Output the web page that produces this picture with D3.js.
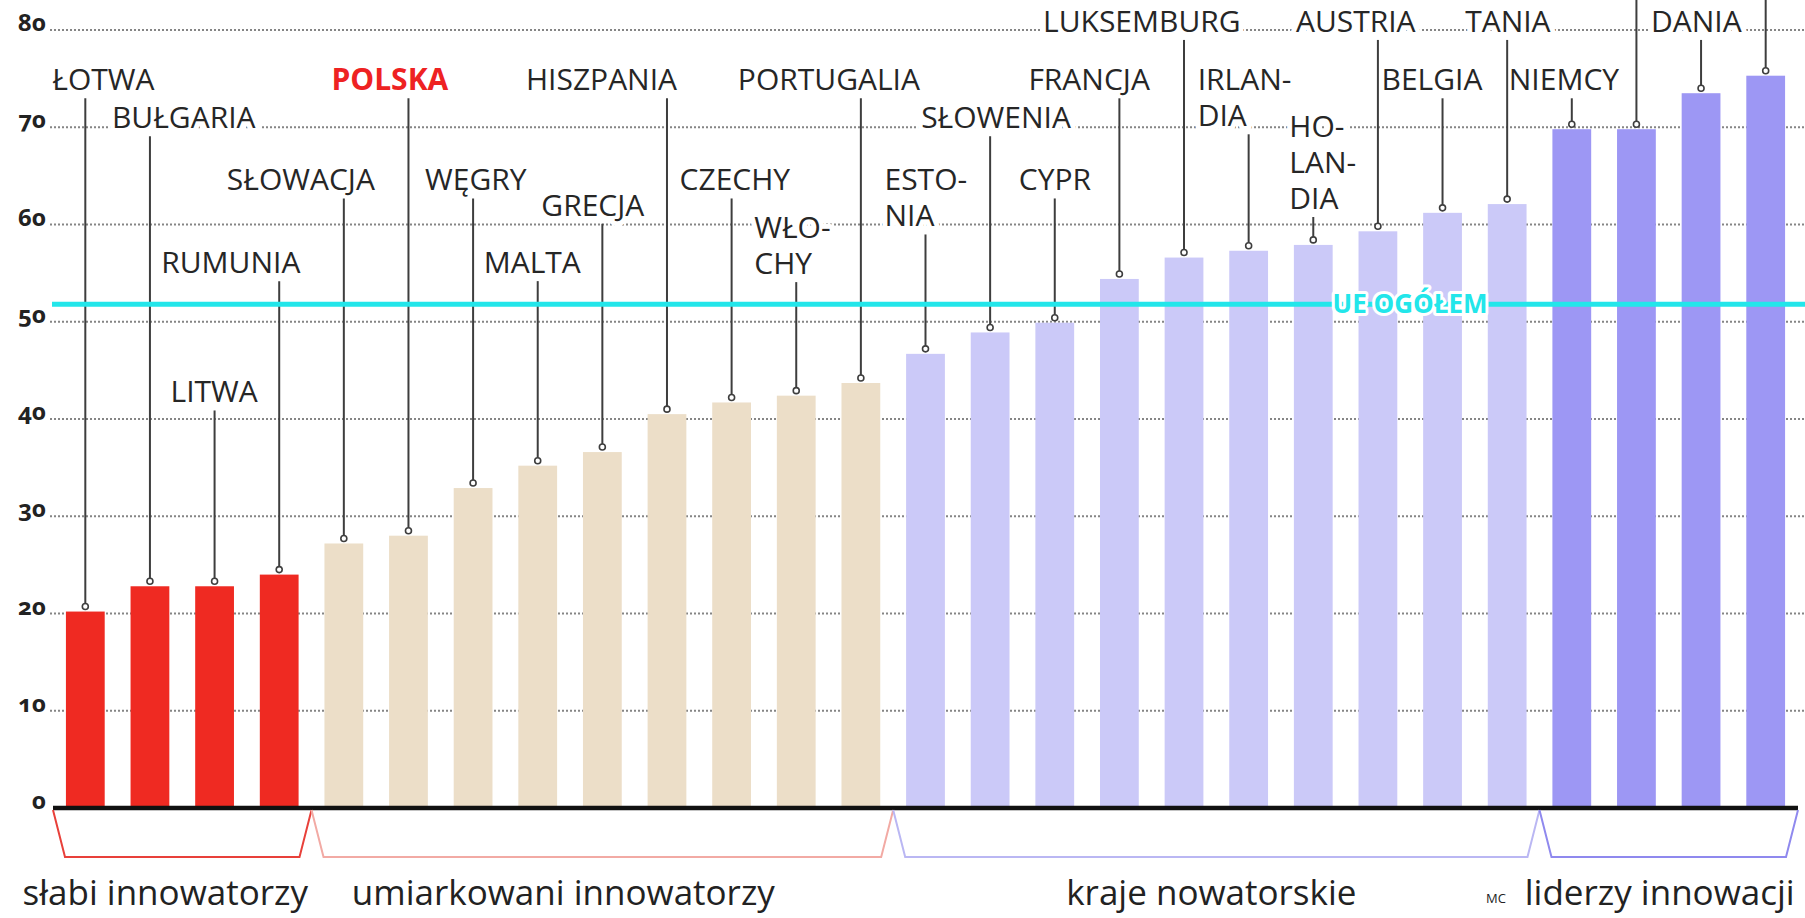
<!DOCTYPE html>
<html>
<head>
<meta charset="utf-8">
<script src="https://cdn.jsdelivr.net/npm/d3@7"></script>
<style>
  html, body { margin: 0; padding: 0; background: #fff; }
  svg { display: block; }
</style>
</head>
<body>
<div id="chart"></div>
<script>
// Data
const countries = ["ŁOTWA", "BUŁGARIA", "LITWA", "RUMUNIA", "SŁOWACJA", "POLSKA", "WĘGRY", "MALTA",
  "GRECJA", "HISZPANIA", "CZECHY", "WŁOCHY", "PORTUGALIA", "ESTONIA", "SŁOWENIA", "CYPR",
  "FRANCJA", "LUKSEMBURG", "IRLANDIA", "HOLANDIA", "AUSTRIA", "BELGIA", "WIELKA BRYTANIA",
  "NIEMCY", "FINLANDIA", "DANIA", "SZWECJA"];
const scores = [20.2, 22.8, 22.8, 24.0, 27.2, 28.0, 32.9, 35.2, 36.6, 40.5, 41.7, 42.4, 43.7,
  46.7, 48.9, 49.9, 54.4, 56.6, 57.3, 57.9, 59.3, 61.2, 62.1, 69.8, 69.8, 73.5, 75.3];
const groupOf = [0, 0, 0, 0, 1, 1, 1, 1, 1, 1, 1, 1, 1, 2, 2, 2, 2, 2, 2, 2, 2, 2, 2, 3, 3, 3, 3];
const groupNames = ["słabi innowatorzy", "umiarkowani innowatorzy", "kraje nowatorskie", "liderzy innowacji"];
const euAverage = 51.8;
const yTicks = [0, 10, 20, 30, 40, 50, 60, 70, 80];

// Label layout: visible lines (the picture is cropped at the top, so some
// labels show only their last line or nothing), left offset from bar centre,
// first baseline in score units
const labelLines = [["ŁOTWA"], ["BUŁGARIA"], ["LITWA"], ["RUMUNIA"], ["SŁOWACJA"], ["POLSKA"], ["WĘGRY"],
  ["MALTA"], ["GRECJA"], ["HISZPANIA"], ["CZECHY"], ["WŁO-", "CHY"], ["PORTUGALIA"], ["ESTO-", "NIA"],
  ["SŁOWENIA"], ["CYPR"], ["FRANCJA"], ["LUKSEMBURG"], ["IRLAN-", "DIA"], ["HO-", "LAN-", "DIA"],
  ["AUSTRIA"], ["BELGIA"], ["TANIA"], ["NIEMCY"], [], ["DANIA"], []];
const labelDx = [-33, -38, -44, -118, -117, -77, -48, -54, -61, -141, -52, -42, -123, -41, -69, -36,
  -91, -141, -51, -24, -82, -61, -42, -63, 0, -50, 0];
const labelLevel = [73.8, 69.9, 41.7, 55.0, 63.5, 73.8, 63.5, 55.0, 60.9, 73.8, 63.5, 58.6, 73.8, 63.5,
  69.9, 63.5, 73.8, 79.8, 73.8, 69.0, 79.8, 73.8, 79.8, 73.8, 84, 79.8, 84];

const groupColors = ["#ef2a22", "#ecdec8", "#cbc9f8", "#9d97f4"];
const bracketColors = ["#e8403a", "#f2aaa4", "#bab7f3", "#8f89ee"];
const groupLabelDx = [-17, -39, -5, -9];

const W = 1805, H = 918;
const plotLeft = 53, plotRight = 1798, y0 = 808, y80 = 30;
const lineH = 36;

const svg = d3.select("#chart").append("svg")
  .attr("width", W).attr("height", H)
  .style("font-family", "'Open Sans', 'Noto Sans', sans-serif");

svg.append("rect").attr("width", W).attr("height", H).attr("fill", "#fff");

const x = d3.scaleBand()
  .domain(countries)
  .range([plotLeft, plotRight])
  .paddingInner(0.4)
  .paddingOuter(0.2);

const y = d3.scaleLinear().domain([0, 80]).range([y0, y80]);
const cx = (d) => x(d) + x.bandwidth() / 2;

// dotted gridlines
svg.append("g").selectAll("line")
  .data(yTicks.filter((t) => t > 0))
  .join("line")
  .attr("x1", 50).attr("x2", W)
  .attr("y1", (d) => y(d)).attr("y2", (d) => y(d))
  .attr("stroke", "#858585")
  .attr("stroke-width", 2)
  .attr("stroke-dasharray", "2,2");

// bars
svg.append("g").selectAll("rect")
  .data(countries)
  .join("rect")
  .attr("x", (d) => x(d))
  .attr("y", (d, i) => y(scores[i]))
  .attr("width", x.bandwidth())
  .attr("height", (d, i) => y0 - y(scores[i]))
  .attr("fill", (d, i) => groupColors[groupOf[i]]);

// country labels
const labels = svg.append("g");
countries.forEach((c, i) => {
  if (!labelLines[i].length) return;
  const t = labels.append("text")
    .attr("x", cx(c) + labelDx[i])
    .attr("y", y(labelLevel[i]))
    .attr("font-size", 30)
    .attr("font-weight", c === "POLSKA" ? 700 : 500)
    .attr("fill", c === "POLSKA" ? "#ee2222" : "#262626")
    .attr("stroke", "#fff")
    .attr("stroke-width", 10)
    .attr("stroke-linejoin", "round")
    .attr("paint-order", "stroke");
  labelLines[i].forEach((ln, k) => {
    t.append("tspan")
      .attr("x", cx(c) + labelDx[i])
      .attr("dy", k === 0 ? 0 : lineH)
      .text(ln);
  });
});

// leader lines with small circles
const leaders = svg.append("g");
countries.forEach((c, i) => {
  const n = Math.max(labelLines[i].length, 1);
  const top = y(labelLevel[i]) + (n - 1) * lineH + 8;
  leaders.append("line")
    .attr("x1", cx(c)).attr("x2", cx(c))
    .attr("y1", top).attr("y2", y(scores[i]) - 8)
    .attr("stroke", "#3e3e3e")
    .attr("stroke-width", 2);
  leaders.append("circle")
    .attr("cx", cx(c)).attr("cy", y(scores[i]) - 5)
    .attr("r", 3)
    .attr("fill", "#fff")
    .attr("stroke", "#3e3e3e")
    .attr("stroke-width", 1.6);
});

// baseline axis
svg.append("line")
  .attr("x1", plotLeft).attr("x2", plotRight)
  .attr("y1", y0).attr("y2", y0)
  .attr("stroke", "#111")
  .attr("stroke-width", 4.5);

// EU average line
svg.append("line")
  .attr("x1", 52).attr("x2", W)
  .attr("y1", y(euAverage)).attr("y2", y(euAverage))
  .attr("stroke", "#22e6ea")
  .attr("stroke-width", 5);

svg.append("text")
  .attr("x", 1410)
  .attr("y", y(euAverage) + 9)
  .attr("text-anchor", "middle")
  .attr("font-size", 26)
  .attr("font-weight", 700)
  .attr("fill", "#22e6ea")
  .attr("stroke", "#fff")
  .attr("stroke-width", 6)
  .attr("stroke-linejoin", "round")
  .attr("paint-order", "stroke")
  .text("UE OGÓŁEM");

// tick labels
svg.append("g").selectAll("text")
  .data(yTicks)
  .join("text")
  .attr("x", 46)
  .attr("y", (d) => y(d) + 1)
  .attr("text-anchor", "end")
  .attr("font-family", "'Noto Sans', sans-serif")
  .attr("font-size", 24)
  .attr("font-weight", 700)
  .attr("fill", "#222")
  .style("font-variant-numeric", "oldstyle-nums")
  .text((d) => d);

// group brackets
const bracketBottom = 857, slant = 12;
groupNames.forEach((g, gi) => {
  const members = countries.filter((c, i) => groupOf[i] === gi);
  const step = x.step();
  const gx0 = x(members[0]) - step * 0.2;
  const gx1 = x(members[members.length - 1]) + x.bandwidth() + step * 0.2;
  svg.append("path")
    .attr("d", d3.line()([[gx0, y0 + 2], [gx0 + slant, bracketBottom], [gx1 - slant, bracketBottom], [gx1, y0 + 2]]))
    .attr("fill", "none")
    .attr("stroke", bracketColors[gi])
    .attr("stroke-width", 2);
  svg.append("text")
    .attr("x", (gx0 + gx1) / 2 + groupLabelDx[gi])
    .attr("y", 905)
    .attr("text-anchor", "middle")
    .attr("font-size", 35)
    .attr("fill", "#222")
    .text(g);
});

svg.append("text")
  .attr("x", 1496).attr("y", 903)
  .attr("text-anchor", "middle")
  .attr("font-size", 13)
  .attr("fill", "#222")
  .text("MC");
</script>
</body>
</html>
